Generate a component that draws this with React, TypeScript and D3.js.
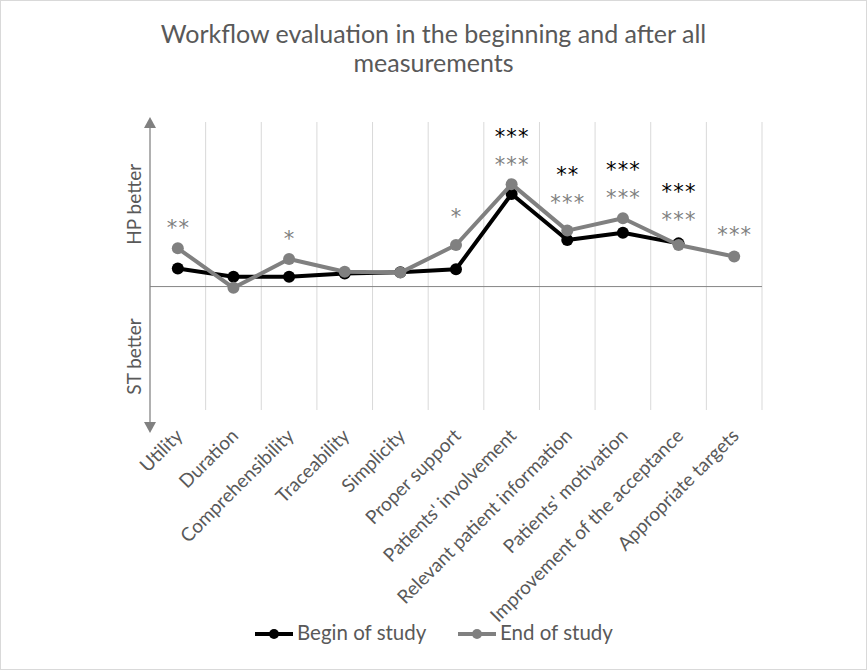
import React from "react";
import * as d3 from "d3";

const categories = [
  "Utility",
  "Duration",
  "Comprehensibility",
  "Traceability",
  "Simplicity",
  "Proper support",
  "Patients' involvement",
  "Relevant patient information",
  "Patients' motivation",
  "Improvement of the acceptance",
  "Appropriate targets",
];

const beginValues: (number | null)[] = [0.44, 0.24, 0.24, 0.32, 0.35, 0.42, 2.25, 1.13, 1.31, 1.05, null];
const endValues: (number | null)[] = [0.93, -0.03, 0.67, 0.36, 0.34, 1.01, 2.49, 1.36, 1.66, 1.01, 0.73];

// significance labels and the heights (in data units) at which they sit
const beginStars = ["", "", "", "", "", "", "***", "**", "***", "***", ""];
const beginStarPos = [0, 0, 0, 0, 0, 0, 3.76, 2.83, 2.96, 2.42, 0];
const endStars = ["**", "", "*", "", "", "*", "***", "***", "***", "***", "***"];
const endStarPos = [1.55, 0, 1.28, 0, 0, 1.81, 3.08, 2.15, 2.28, 1.74, 1.38];

const yDomain = [-3, 4];
const titleLines = ["Workflow evaluation in the beginning and after all", "measurements"];
const seriesNames = ["Begin of study", "End of study"];
const axisLabels = ["HP better", "ST better"];
const axisLabelPos = [2, -1.7];

const W = 867;
const H = 670;
const FONT = "Lato, 'Open Sans', sans-serif";
const STAR_FONT = "'DejaVu Sans', sans-serif";
const BLACK = "#000000";
const GRAY = "#808080";
const TEXT = "#595959";

export default function App() {
  const plotLeft = 150;
  const plotRight = 762;
  const plotTop = 122;
  const plotBottom = 410;

  const x = d3.scaleBand<string>().domain(categories).range([plotLeft, plotRight]).padding(0);
  const y = d3.scaleLinear().domain(yDomain).range([plotBottom, plotTop]);
  const cx = (c: string) => (x(c) as number) + x.bandwidth() / 2;

  const line = d3
    .line<number | null>()
    .defined((d) => d !== null)
    .x((_, i) => cx(categories[i]))
    .y((d) => y(d as number));

  const gridXs = categories.map((c) => (x(c) as number) + x.bandwidth());

  const series = [
    { name: seriesNames[0], values: beginValues, color: BLACK, stars: beginStars, starPos: beginStarPos },
    { name: seriesNames[1], values: endValues, color: GRAY, stars: endStars, starPos: endStarPos },
  ];

  const starSize = 21;
  const starSpacing = 1.2;
  const legendX = [255, 458];

  return (
    <svg width={W} height={H} style={{ position: "absolute", left: 0, top: 0, background: "#fff" }}>
      <rect x={0.5} y={0.5} width={W - 1} height={H - 1} fill="#fff" stroke="#d9d9d9" />
      {/* title */}
      {titleLines.map((t, i) => (
        <text key={i} x={W / 2} y={42.5 + i * 29.5} textAnchor="middle" fontFamily={FONT} fontSize={25} fill={TEXT}>
          {t}
        </text>
      ))}
      {/* vertical gridlines */}
      {gridXs.map((gx, i) => (
        <line key={i} x1={gx} x2={gx} y1={plotTop} y2={plotBottom} stroke="#d9d9d9" strokeWidth={1} />
      ))}
      {/* zero line */}
      <line x1={plotLeft} x2={plotRight} y1={y(0)} y2={y(0)} stroke="#868686" strokeWidth={1} />
      {/* y axis with arrows */}
      <line x1={plotLeft} x2={plotLeft} y1={126} y2={424} stroke="#808080" strokeWidth={1.25} />
      <path d={`M${plotLeft},117 L${plotLeft - 6},128 L${plotLeft + 6},128 Z`} fill="#808080" />
      <path d={`M${plotLeft},433 L${plotLeft - 6},422 L${plotLeft + 6},422 Z`} fill="#808080" />
      {axisLabels.map((t, i) => (
        <text
          key={t}
          transform={`translate(133,${y(axisLabelPos[i])}) rotate(-90)`}
          textAnchor="middle"
          dominantBaseline="central"
          fontFamily={FONT}
          fontSize={19}
          fill={TEXT}
        >
          {t}
        </text>
      ))}
      {/* category labels */}
      {categories.map((c) => (
        <text
          key={c}
          transform={`translate(${cx(c) + 6},${plotBottom + 27}) rotate(-45)`}
          textAnchor="end"
          fontFamily={FONT}
          fontSize={19}
          fill={TEXT}
        >
          {c}
        </text>
      ))}
      {/* lines */}
      {series.map((s) => (
        <g key={s.name}>
          <path d={line(s.values) || ""} fill="none" stroke={s.color} strokeWidth={4} strokeLinejoin="round" />
          {s.values.map((v, i) =>
            v === null ? null : <circle key={i} cx={cx(categories[i])} cy={y(v)} r={6} fill={s.color} />
          )}
        </g>
      ))}
      {/* significance stars */}
      {series
        .slice()
        .reverse()
        .map((s) =>
          s.stars.map((st, i) =>
            st ? (
              <text
                key={s.name + i}
                x={cx(categories[i]) + starSpacing / 2}
                y={y(s.starPos[i]) + starSize * 0.57}
                textAnchor="middle"
                fontFamily={STAR_FONT}
                fontSize={starSize}
                letterSpacing={starSpacing}
                fill={s.color}
              >
                {st}
              </text>
            ) : null
          )
        )}
      {/* legend */}
      {series.map((s, i) => {
        const lx = legendX[i];
        return (
          <g key={s.name}>
            <line x1={lx} x2={lx + 38} y1={634} y2={634} stroke={s.color} strokeWidth={4} />
            <circle cx={lx + 19} cy={634} r={5} fill={s.color} />
            <text x={lx + 42} y={640} fontFamily={FONT} fontSize={20.5} fill={TEXT}>
              {s.name}
            </text>
          </g>
        );
      })}
    </svg>
  );
}
